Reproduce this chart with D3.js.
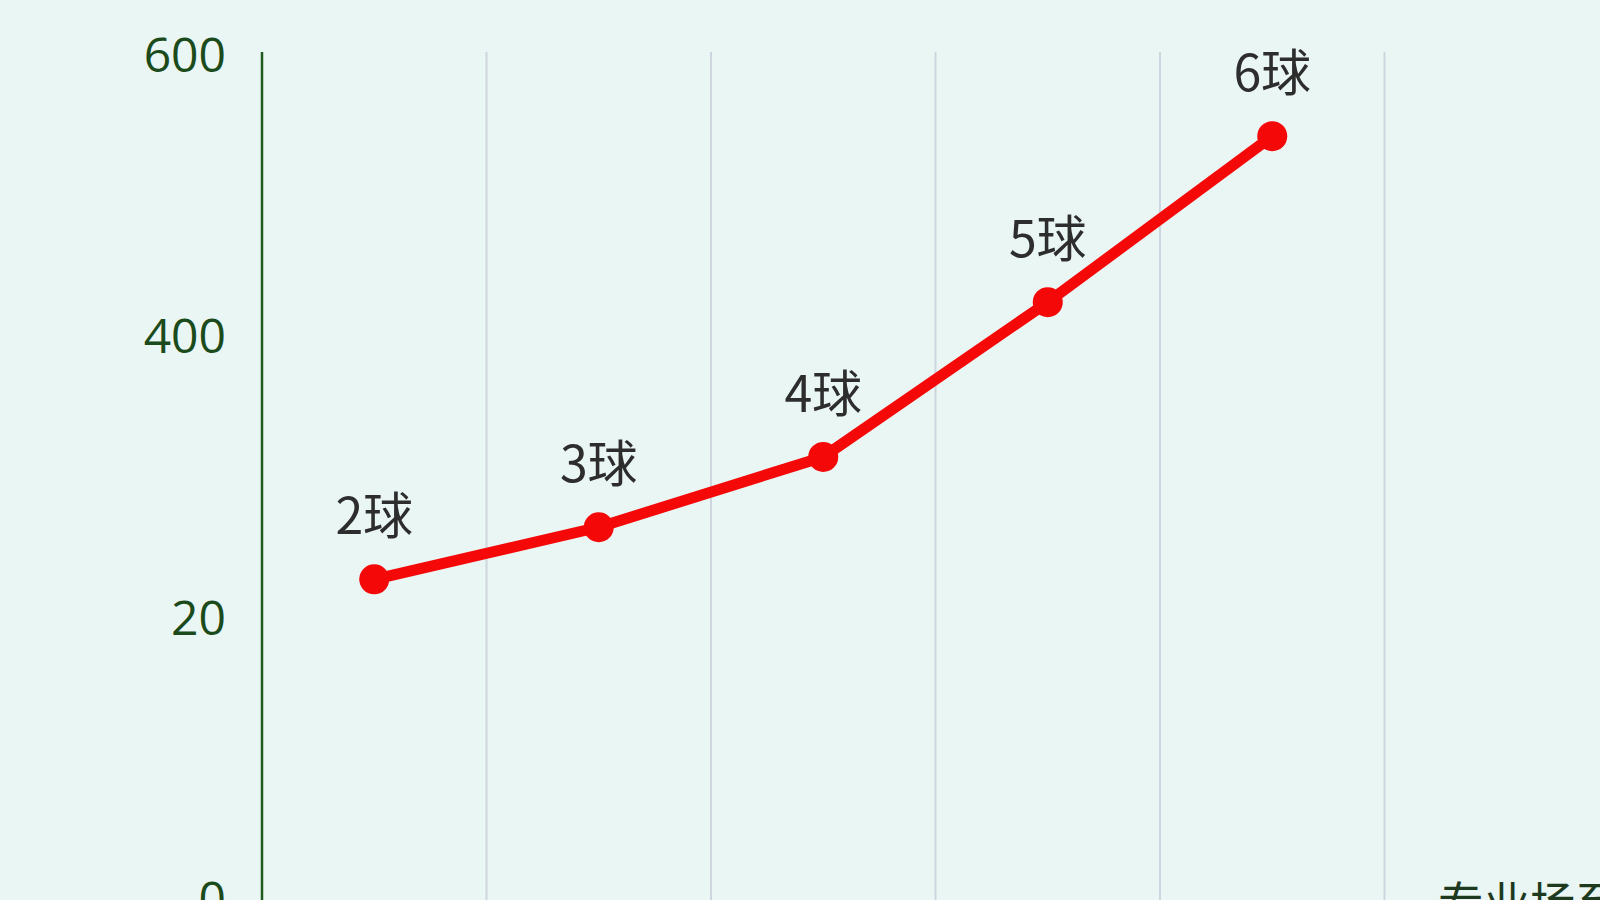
<!DOCTYPE html>
<html lang="zh">
<head>
    <meta charset="UTF-8">
    <title>球数</title>
    <script src="https://d3js.org/d3.v7.min.js"></script>
    <style>
        html, body { margin: 0; padding: 0; background: #eaf6f4; overflow: hidden; }
        svg { display: block; }
    </style>
</head>
<body>
<svg id="chart" width="1600" height="900"></svg>
<script>
    // данные с картинки
    const categories = ["2球", "3球", "4球", "5球", "6球", ""];
    const values = [228, 265, 315, 425, 543];
    const yTicks = [0, 200, 400, 600];
    const yTickLabels = ["0", "20", "400", "600"];
    const xTitle = "专业场至尊";

    const width = 1600;
    const height = 900;
    const marginLeft = 262, plotTop = 52, plotBottom = 900;

    const svg = d3.select("#chart");

    const x = d3.scaleBand()
        .domain(categories.map((c, i) => i))
        .range([marginLeft, marginLeft + 224.5 * categories.length])
        .padding(0);

    const y = d3.scaleLinear()
        .domain([0, 600])
        .range([plotBottom, 56]);

    // вертикальная сетка по границам полос
    svg.append("g")
        .selectAll("line")
        .data(categories.map((c, i) => i).slice(1))
        .enter().append("line")
        .attr("x1", d => x(d))
        .attr("x2", d => x(d))
        .attr("y1", plotTop)
        .attr("y2", height)
        .attr("stroke", "#ced5de")
        .attr("stroke-width", 2);

    // ось Y
    const yAxis = d3.axisLeft(y)
        .tickValues(yTicks)
        .tickSize(0)
        .tickPadding(36)
        .tickFormat((d, i) => yTickLabels[i]);

    const gy = svg.append("g")
        .attr("transform", `translate(${marginLeft},0)`)
        .call(yAxis);
    gy.select(".domain").remove();
    gy.selectAll("text")
        .attr("fill", "#1b4a1b")
        .style("font-family", "'Open Sans', 'Noto Sans', sans-serif")
        .style("font-size", "48px");

    svg.append("line")
        .attr("x1", marginLeft).attr("x2", marginLeft)
        .attr("y1", plotTop).attr("y2", height)
        .attr("stroke", "#1f5a1f")
        .attr("stroke-width", 2.5);

    // линия
    const pts = values.map((v, i) => ({ i, v }));
    const line = d3.line()
        .x(d => x(d.i) + x.bandwidth() / 2)
        .y(d => y(d.v));

    svg.append("path")
        .datum(pts)
        .attr("d", line)
        .attr("fill", "none")
        .attr("stroke", "#f40808")
        .attr("stroke-width", 11)
        .attr("stroke-linejoin", "round")
        .attr("stroke-linecap", "round");

    svg.append("g")
        .selectAll("circle")
        .data(pts)
        .enter().append("circle")
        .attr("cx", d => x(d.i) + x.bandwidth() / 2)
        .attr("cy", d => y(d.v))
        .attr("r", 15)
        .attr("fill", "#f40808");

    // подписи точек
    svg.append("g")
        .selectAll("text")
        .data(pts)
        .enter().append("text")
        .attr("x", d => x(d.i) + x.bandwidth() / 2)
        .attr("y", d => y(d.v) - 45)
        .attr("text-anchor", "middle")
        .attr("fill", "#2d2d2d")
        .style("font-family", "'Noto Sans CJK SC', 'Noto Sans', sans-serif")
        .style("font-size", "50px")
        .text(d => categories[d.i]);

    // подпись оси X (обрезана краем)
    svg.append("text")
        .attr("x", 1438)
        .attr("y", 920)
        .attr("fill", "#1e3a1e")
        .style("font-family", "'Noto Sans CJK SC', sans-serif")
        .style("font-size", "46px")
        .text(xTitle);
</script>
</body>
</html>
